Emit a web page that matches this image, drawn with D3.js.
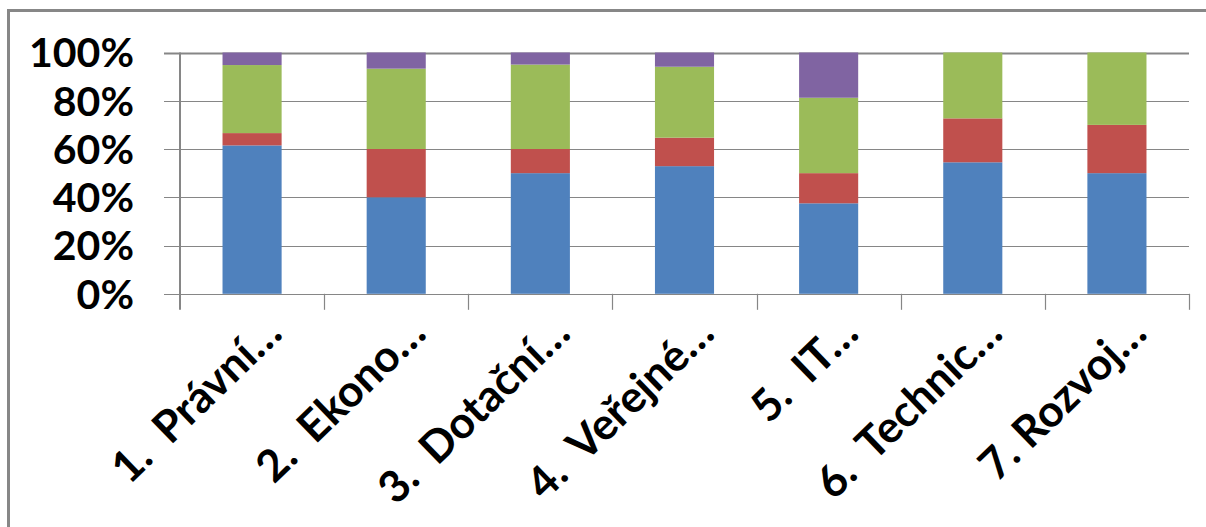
<!DOCTYPE html>
<html>
<head>
<meta charset="utf-8">
<script src="https://cdn.jsdelivr.net/npm/d3@7"></script>
<style>
  body { margin: 0; background: #fff; }
  svg { display: block; }
  text { font-family: Lato, "Open Sans", sans-serif; font-weight: bold; fill: #000; }
</style>
</head>
<body>
<svg id="chart"></svg>
<script>
// kategorie (osa x)
const categories = ["1.  Právní…", "2.  Ekono…", "3.  Dotační…", "4.  Veřejné…", "5.  IT…", "6.  Technic…", "7. Rozvoj…"];

// hodnoty jednotlivých řad (podíly v %)
const seriesBlue   = [61.5, 40, 50, 52.9, 37.5, 54.5, 50];
const seriesRed    = [5.1, 20, 10, 11.8, 12.5, 18.2, 20];
const seriesGreen  = [28.2, 33.3, 35, 29.4, 31.25, 27.3, 30];
const seriesPurple = [5.2, 6.7, 5, 5.9, 18.75, 0, 0];

const yTicks = [0, 20, 40, 60, 80, 100];
const colors = ["#4F81BD", "#C0504D", "#9BBB59", "#8064A2"];

const width = 1206, height = 527;
const margin = { left: 180, right: 17, top: 52.5, bottom: 234 };

const svg = d3.select("#chart")
  .attr("width", width)
  .attr("height", height);

// rámeček grafu
svg.append("rect")
  .attr("x", 8.5).attr("y", 10.5)
  .attr("width", 1220).attr("height", 600)
  .attr("fill", "none")
  .attr("stroke", "#878787")
  .attr("stroke-width", 3);

const x = d3.scaleBand()
  .domain(categories)
  .range([margin.left, width - margin.right])
  .paddingInner(0.59)
  .paddingOuter(0.295);

const xOuter = d3.scaleBand()
  .domain(categories)
  .range([margin.left, width - margin.right]);

const y = d3.scaleLinear()
  .domain([0, 100])
  .range([height - margin.bottom + 0.8, margin.top]);

// mřížka
svg.append("g")
  .selectAll("line")
  .data(yTicks)
  .enter()
  .append("line")
  .attr("x1", margin.left - 16)
  .attr("x2", width - margin.right)
  .attr("y1", d => Math.round(y(d)) + 0.5)
  .attr("y2", d => Math.round(y(d)) + 0.5)
  .attr("stroke", "#868686")
  .attr("stroke-width", d => d === 100 ? 2 : 1.2);

// popisky osy y
svg.append("g")
  .selectAll("text")
  .data(yTicks)
  .enter()
  .append("text")
  .attr("x", 134)
  .attr("y", d => y(d))
  .attr("dy", "0.36em")
  .attr("text-anchor", "end")
  .style("font-size", "41px")
  .text(d => d + "%");

// skládaná data
const rows = categories.map((c, i) => ({
  cat: c,
  a: seriesBlue[i], b: seriesRed[i], c: seriesGreen[i], d: seriesPurple[i]
}));
const stack = d3.stack().keys(["a", "b", "c", "d"]);
const layers = stack(rows);

svg.append("g")
  .selectAll("g")
  .data(layers)
  .enter()
  .append("g")
  .attr("fill", (d, i) => colors[i])
  .selectAll("rect")
  .data(d => d)
  .enter()
  .append("rect")
  .attr("x", d => x(d.data.cat))
  .attr("width", x.bandwidth())
  .attr("y", d => y(Math.min(100, d[1])))
  .attr("height", d => y(d[0]) - y(Math.min(100, d[1])));

// osa y
svg.append("line")
  .attr("x1", margin.left).attr("x2", margin.left)
  .attr("y1", margin.top).attr("y2", y(0) + 16)
  .attr("stroke", "#868686")
  .attr("stroke-width", 2);

// značky kategorií
const ticks = categories.map(c => xOuter(c) + xOuter.bandwidth());
svg.append("g")
  .selectAll("line")
  .data(ticks)
  .enter()
  .append("line")
  .attr("x1", d => Math.round(d) + 0.5)
  .attr("x2", d => Math.round(d) + 0.5)
  .attr("y1", y(0))
  .attr("y2", y(0) + 16)
  .attr("stroke", "#868686")
  .attr("stroke-width", 1.2);

// popisky osy x
svg.append("g")
  .selectAll("text")
  .data(categories)
  .enter()
  .append("text")
  .attr("transform", d => "translate(" + (x(d) + x.bandwidth() / 2 + 32) + ",336) rotate(-44)")
  .attr("text-anchor", "end")
  .style("font-size", "44px")
  .style("white-space", "pre")
  .text(d => d);
</script>
</body>
</html>
